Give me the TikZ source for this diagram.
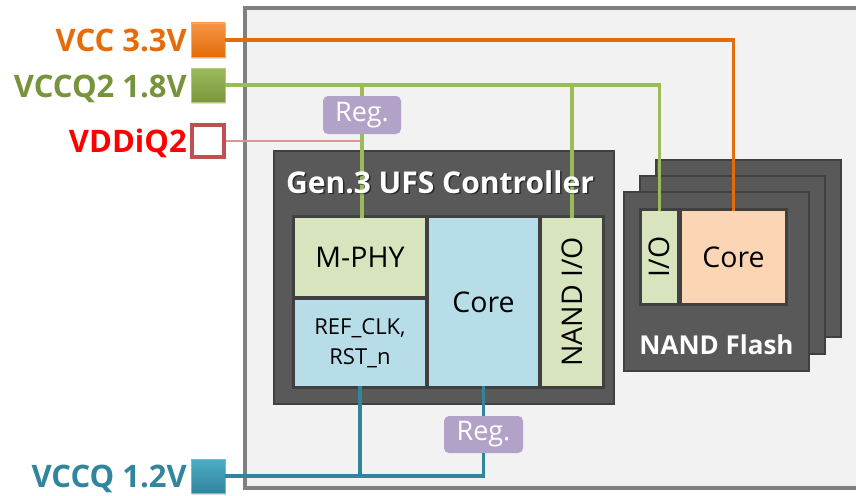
\documentclass[tikz,border=0pt]{standalone}
\usepackage{fontspec}
\setmainfont{Open Sans}
\usetikzlibrary{shadows}
\definecolor{bgfill}{HTML}{F2F2F2}
\definecolor{bgline}{HTML}{7F7F7F}
\definecolor{darkbox}{HTML}{595959}
\definecolor{darkline}{HTML}{404040}
\definecolor{lgreen}{HTML}{D7E4BD}
\definecolor{lblue}{HTML}{B7DEE8}
\definecolor{peach}{HTML}{FCD5B5}
\definecolor{regpurple}{HTML}{B3A2C7}
\definecolor{orangeA}{HTML}{F79646}
\definecolor{orangeB}{HTML}{E46C0A}
\definecolor{greenA}{HTML}{9BBB59}
\definecolor{greenB}{HTML}{77933C}
\definecolor{tealA}{HTML}{4BACC6}
\definecolor{tealB}{HTML}{31859C}
\definecolor{redA}{HTML}{C0504D}
\definecolor{redB}{HTML}{D99694}
\begin{document}
\begin{tikzpicture}[x=1pt,y=-1pt,
  pin/.style={rectangle, minimum size=34pt, inner sep=0pt,
    drop shadow={opacity=0.25, shadow xshift=1pt, shadow yshift=-2pt}},
  pinlabel/.style={anchor=base east, inner sep=0pt, font=\fontsize{31}{36}\selectfont\bfseries},
  cardbox/.style={draw=darkline, line width=2pt, fill=darkbox},
  frame/.style={fill=darkline},
  cell/.style={rectangle, inner sep=0pt, font=\fontsize{28.5}{33}\selectfont},
  regbox/.style={rectangle, rounded corners=5pt, fill=regpurple, text=white, inner sep=0pt,
    minimum width=78pt, minimum height=38pt, font=\fontsize{27}{31}\selectfont},
  wire/.style={line width=3.3pt},
]
\useasboundingbox (0,0) rectangle (856,495);
\begin{scope}
\clip (0,0) rectangle (856,495);
% outer package
\draw[draw=bgline, fill=bgfill, line width=4pt] (245,8) rectangle (880,488);
\end{scope}

% pins
\node[pin, top color=orangeA, bottom color=orangeB, draw=orangeA!80!white, line width=0.6pt] (vcc) at (208,40) {};
\node[pin, top color=greenA, bottom color=greenB!90!greenA, draw=greenA!80!white, line width=0.6pt] (vccq2) at (208,85) {};
\node[rectangle, minimum size=32pt, inner sep=0pt, draw=redA, fill=white, line width=4pt] (vddiq2) at (208,141) {};
\node[pin, top color=tealA, bottom color=tealB, draw=tealA!80!white, line width=0.6pt] (vccq) at (208,476) {};

\node[pinlabel, text=orangeB] (lvcc) at (187,52) {VCC 3.3V};
\node[pinlabel, text=greenB] (lvccq2) at (187,97) {VCCQ2 1.8V};
\node[pinlabel, text=red] (lvddiq2) at (187,152) {VDDiQ2};
\node[pinlabel, text=tealB] (lvccq) at (187,487) {VCCQ 1.2V};

% controller
\draw[cardbox] (274,151) rectangle (614,404);
\fill[frame] (292,215) rectangle (605,389);
\node[cell, fill=lgreen, minimum width=130pt, minimum height=78pt] (mphy) at (360,257) {M-PHY};
\node[cell, fill=lblue, minimum width=130pt, minimum height=86pt, align=center,
  font=\fontsize{22}{30}\selectfont] (refclk) at (360,343) {REF\_CLK,\\RST\_n};
\node[cell, fill=lblue, minimum width=109pt, minimum height=168pt] (ccore) at (483.5,302) {Core};
\node[cell, fill=lgreen, minimum width=60pt, minimum height=168pt] (ctlio) at (572,302) {};
\node[cell, rotate=90] (ctliotext) at (ctlio.center) {NAND I/O};

% NAND flash stack
\draw[cardbox] (656,160) rectangle (841,337);
\draw[cardbox] (640,176) rectangle (825,354);
\draw[cardbox] (624,192) rectangle (809,371);
\fill[frame] (639,208) rectangle (788,306);
\node[cell, fill=lgreen, minimum width=35pt, minimum height=92pt] (nfio) at (659.5,257) {};
\node[cell, rotate=90] (nfiotext) at (nfio.center) {I/O};
\node[cell, fill=peach, minimum width=103pt, minimum height=92pt] (nfcore) at (733.5,257) {Core};
\node[text=white, font=\fontsize{26}{30}\selectfont\bfseries, inner sep=0pt] (nflabel) at (716.5,345) {NAND Flash};

% regulators
\node[regbox] (reg1) at (362,115) {Reg.};
\node[regbox, minimum width=79pt, minimum height=37pt] (reg2) at (483.5,434.5) {Reg.};

% wires
\draw[wire, orangeB] (vcc.east) -| (nfcore.north);
\draw[wire, greenA] (vccq2.east) -| (nfio.north);
\draw[wire, greenA] (reg1.north |- vccq2.east) -- (reg1.north);
\draw[wire, greenA] (reg1.south) -- (reg1.south |- mphy.north);
\draw[wire, greenA] (ctlio.north |- vccq2.east) -- (ctlio.north);
\draw[line width=1.5pt, redB] (vddiq2.east) -- (vddiq2.east -| reg1.south);
\draw[wire, tealB] (vccq.east) -| (reg2.south);
\draw[wire, tealB] (reg2.north) -- (ccore.south);
\draw[wire, tealB] (refclk.south) -- (refclk.south |- vccq.east);

% controller title with shadow
\node[text=black, opacity=0.55, font=\fontsize{30}{34}\selectfont\bfseries, inner sep=0pt] (titleshadow) at (441.5,183.5) {Gen.3 UFS Controller};
\node[text=white, font=\fontsize{30}{34}\selectfont\bfseries, inner sep=0pt] (title) at (440,182) {Gen.3 UFS Controller};
\end{tikzpicture}
\end{document}
